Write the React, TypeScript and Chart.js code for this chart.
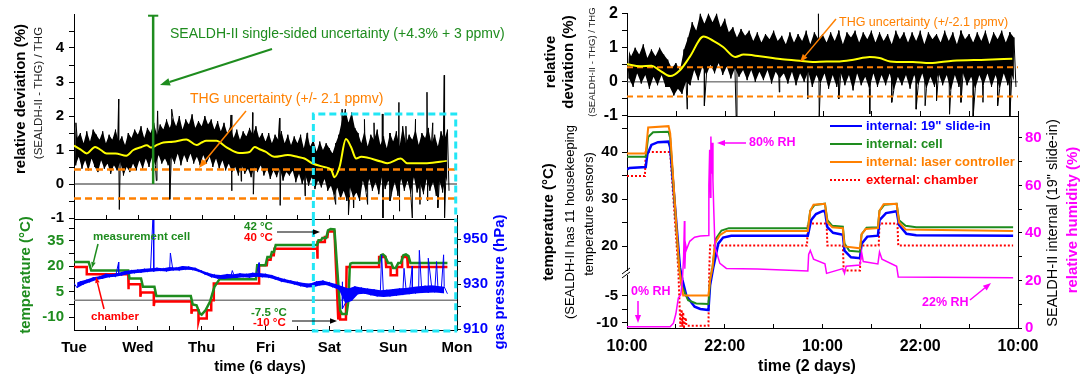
import { useEffect, useRef } from 'react';
import { Chart, registerables } from 'chart.js';

Chart.register(...registerables);

// ---------------- data ----------------
const DAY_LABELS = ['Tue', 'Wed', 'Thu', 'Fri', 'Sat', 'Sun', 'Mon'];
const HOUR_LABELS = ['10:00', '22:00', '10:00', '22:00', '10:00'];
const SERIES_LABELS = ['internal: 19" slide-in', 'internal: cell', 'internal: laser controller', 'external: chamber'];

// left top: relative deviation (%) vs time (days from Tue)
const LT_YEL_T = [0, 0.1, 0.2, 0.33, 0.42, 0.51, 0.65, 0.82, 0.93, 1.05, 1.14, 1.21, 1.3, 1.4, 1.55, 1.76, 1.92, 2.0, 2.07, 2.23, 2.39, 2.59, 2.75, 2.83, 2.9, 3.0, 3.14, 3.35, 3.5, 3.61, 3.73, 3.92, 4.03, 4.08, 4.16, 4.26, 4.34, 4.42, 4.5, 4.81, 4.91, 5.12, 5.22, 5.53, 5.84];
const LT_YEL_V = [1.13, 1.02, 0.9, 1.09, 1.0, 0.9, 0.9, 0.83, 1.0, 1.08, 1.14, 1.07, 1.15, 1.22, 1.24, 1.31, 1.15, 1.22, 1.27, 1.27, 1.08, 0.91, 0.94, 1.09, 1.03, 0.95, 0.8, 0.85, 0.8, 0.75, 0.61, 0.5, 0.42, 0.2, 0.5, 1.32, 1.09, 0.75, 0.8, 0.66, 0.61, 0.75, 0.61, 0.61, 0.68];
const LT_NOISE_DT = 0.05;
const LT_NOISE_HI = [1.75, 1.35, 1.5, 1.2, 1.55, 1.25, 1.6, 1.45, 1.3, 1.55,
  1.2, 1.45, 1.3, 1.6, 1.25, 1.4, 1.15, 1.5, 1.35, 1.6,
  1.45, 1.7, 1.35, 1.65, 1.5, 1.8, 1.45, 1.75, 1.6, 1.9,
  1.65, 1.95, 1.7, 2.0, 1.6, 1.9, 1.75, 2.05, 1.65, 1.85,
  1.7, 2.0, 1.75, 1.9, 1.6, 1.85, 1.55, 1.8, 1.5, 1.7,
  1.35, 1.6, 1.3, 1.55, 1.4, 1.65, 1.45, 1.7, 1.35, 1.5,
  1.25, 1.5, 1.2, 1.45, 1.3, 1.55, 1.2, 1.45, 1.15, 1.4,
  1.2, 1.45, 1.05, 1.5, 1.1, 1.3, 0.95, 1.25, 1.0, 1.2,
  1.05, 0.9, 1.2, 1.45, 1.9, 2.2, 1.8, 2.1, 1.65, 1.5,
  1.2, 1.55, 1.1, 1.45, 1.3, 1.6, 1.15, 1.4, 1.05, 1.5,
  1.25, 1.55, 1.1, 1.7, 1.2, 1.45, 1.3, 1.6, 1.15, 1.5,
  1.35, 1.65, 1.2, 1.45, 1.1, 1.55, 1.3, 1.6];
const LT_NOISE_LO = [0.55, 0.8, 0.45, 0.7, 0.4, 0.75, 0.5, 0.35, 0.7, 0.45,
  0.6, 0.3, 0.55, 0.4, 0.65, 0.25, 0.5, 0.35, 0.6, 0.4,
  0.7, 0.45, 0.75, 0.5, 0.8, 0.55, 0.85, 0.6, 0.75, 0.55,
  0.8, 0.6, 0.9, 0.55, 0.85, 0.65, 0.9, 0.6, 0.8, 0.55,
  0.85, 0.6, 0.8, 0.5, 0.75, 0.45, 0.7, 0.4, 0.6, 0.35,
  0.5, 0.25, 0.55, 0.3, 0.45, 0.2, 0.5, 0.35, 0.55, 0.25,
  0.45, 0.15, 0.4, 0.2, 0.45, 0.1, 0.35, 0.25, 0.4, 0.05,
  0.3, 0.0, 0.25, -0.05, 0.2, -0.15, 0.1, -0.1, 0.15, -0.2,
  -0.05, -0.35, -0.1, -0.45, -0.2, -0.5, -0.1, -0.4, -0.25, -0.5,
  0.1, -0.25, 0.15, -0.2, 0.05, -0.3, 0.2, -0.15, 0.1, -0.3,
  0.05, -0.35, 0.15, -0.2, 0.1, -0.3, 0.2, -0.25, 0.0, -0.3,
  0.15, -0.2, 0.05, -0.35, 0.1, -0.25, 0.2, -0.2];
const LT_SPIKES = [[0.03, 1.8], [0.7, 2.5], [0.71, -0.75], [1.29, 0.1], [1.31, 2.15], [1.5, -0.45], [1.53, 2.2], [2.46, 2.03], [2.47, -0.2], [2.62, 0.08], [2.8, 2.1], [2.81, -0.3], [3.22, 1.94], [3.23, -0.63], [3.62, -0.35], [3.66, 1.5], [4.1, -0.6], [4.2, 2.2], [4.3, -0.9], [4.38, -0.7], [4.55, 1.9], [4.6, -0.6], [4.7, 1.8], [4.83, 2.06], [4.84, -1.0], [4.95, -0.5], [5.09, 2.4], [5.1, -0.8], [5.2, 1.7], [5.3, -1.0], [5.35, 1.9], [5.42, -0.6], [5.53, 2.7], [5.54, -0.5], [5.62, 1.8], [5.7, -0.7], [5.8, 3.2], [5.81, -1.0]];
const THG_UNC = 0.43;
const LT_DASH_END = 5.97;
const SEALDH_UNC_DAY = 1.24;
const SEALDH_UNC_TOP = 4.95;
const BOX_X0 = 3.75;
const BOX_X1 = 5.98;
const BOX_TOP = 2.06;

// left bottom: temperatures (°C) and gas pressure (hPa)
const CELL_T = [0, 0.23, 0.27, 0.85, 0.87, 1.05, 1.08, 1.26, 1.29, 1.83, 1.86, 1.92, 1.97, 2.0, 2.06, 2.13, 2.2, 2.28, 2.85, 2.87, 3.0, 3.03, 3.08, 3.1, 3.13, 3.16, 3.81, 3.83, 3.87, 3.89, 3.95, 3.98, 4.02, 4.08, 4.17, 4.2, 4.27, 4.3, 4.32, 4.33, 4.36, 4.78, 4.81, 4.84, 4.87, 4.92, 4.97, 5.0, 5.04, 5.08, 5.12, 5.16, 5.2, 5.24, 5.27, 5.85];
const CELL_V = [22.5, 22.5, 17.5, 17.5, 12.8, 12.8, 7.9, 7.9, 2.4, 2.4, -2.5, -3, -7.8, -8.5, -6, -1, 7.9, 12.4, 12.4, 20.6, 20.6, 25.5, 25.5, 28.4, 28.4, 32.6, 32.6, 35.3, 35.3, 36.7, 36.7, 41.2, 42, 41.8, -6, -8.2, -8.2, 0, 19.6, 21.5, 22, 22, 26.5, 27, 26, 22, 22, 19, 19, 22, 22, 26.5, 27, 26, 22, 22];
const CHAM_T = [0, 0.2, 0.2, 0.85, 0.85, 0.86, 1.04, 1.04, 1.05, 1.25, 1.25, 1.26, 1.84, 1.84, 1.85, 1.95, 1.95, 1.96, 2.08, 2.08, 2.15, 2.15, 2.19, 2.19, 2.9, 2.9, 3.02, 3.03, 3.08, 3.09, 3.13, 3.14, 3.81, 3.81, 3.82, 3.92, 3.93, 3.97, 3.98, 4.08, 4.14, 4.16, 4.17, 4.26, 4.27, 4.78, 4.78, 4.88, 4.89, 4.96, 4.96, 5.06, 5.06, 5.14, 5.14, 5.22, 5.23, 5.85];
const CHAM_V = [19.6, 19.6, 15.3, 15.3, 6.5, 9.4, 9.4, 2, 4.5, 4.5, -3.5, -0.8, -0.8, -8, -5.9, -5.9, -12.4, -10.8, -10.8, -5.9, -5.9, 0, 0, 9.8, 9.8, 20.6, 20.6, 23.8, 23.8, 26.5, 26.5, 30.4, 30.4, 24.5, 34.3, 34.3, 37.3, 37.3, 40.5, 40.5, -11.4, -5, -11.4, -11.4, 19.6, 19.6, 25.5, 25.5, 19.6, 19.6, 14.7, 14.7, 19.6, 19.6, 25.5, 25.5, 19.6, 19.6];
const PRES_DT = 0.1;
const PRES_HI = [930.3, 931.2, 932.0, 933.0, 933.5, 934.6, 934.4, 935.0, 935.8, 936.2,
  936.5, 936.8, 937.0, 937.3, 937.0, 937.6, 937.4, 938.0, 937.8, 937.2,
  936.0, 935.0, 934.3, 934.0, 934.5, 934.4, 934.8, 934.6, 935.0, 934.9,
  934.6, 934.0, 933.0, 932.3, 931.6, 931.0, 930.5, 930.3, 931.2, 931.6,
  930.8, 930.0, 929.0, 928.0, 929.0, 928.5, 928.0, 927.7, 927.3, 927.5,
  927.8, 928.1, 928.3, 928.7, 929.0, 929.3, 929.5, 929.1, 928.8];
const PRES_LO = [928.3, 929.8, 930.8, 931.8, 932.4, 933.0, 933.2, 933.8, 934.4, 934.8,
  935.0, 935.4, 935.6, 935.8, 935.6, 936.0, 936.0, 936.4, 936.2, 935.5,
  934.2, 933.0, 932.4, 932.3, 932.6, 932.7, 933.0, 932.8, 933.2, 933.0,
  932.8, 932.0, 931.0, 930.5, 929.8, 929.0, 928.5, 928.6, 929.4, 929.6,
  928.6, 927.5, 921.5, 922.5, 925.5, 925.7, 925.0, 924.5, 924.3, 924.5,
  924.8, 925.1, 925.5, 925.8, 926.0, 926.1, 926.3, 926.0, 925.7];
const PRES_SPIKES = [[0.7, 939.8], [1.24, 962], [1.51, 943.8], [2.48, 936], [2.9, 939.5], [4.2, 931], [4.21, 919], [4.82, 943], [5.17, 937], [5.3, 938], [5.41, 945], [5.55, 941.5], [5.68, 940], [5.79, 943]];

// right top: relative deviation (%) vs hours from 10:00
const RT_YEL_H = [0, 1.6, 3, 4, 5.3, 6.5, 7.7, 9.4, 10.6, 11.8, 13.3, 14.3, 16.3, 18.8, 21.2, 22.8, 24.5, 26.1, 27.8, 29.8, 31, 32.3, 35.1, 37.2, 40, 44.1, 47.3];
const RT_YEL_V = [0.52, 0.46, 0.47, 0.34, 0.17, 0.34, 0.73, 1.33, 1.2, 1.02, 0.73, 0.8, 0.75, 0.67, 0.62, 0.58, 0.6, 0.6, 0.65, 0.73, 0.7, 0.6, 0.58, 0.55, 0.62, 0.65, 0.68];
const RT_NOISE_DT = 0.5;
const RT_NOISE_HI = [1.05, 0.75, 1.0, 0.8, 1.1, 0.7, 0.95, 0.75, 1.0, 0.8,
  0.65, 0.4, 0.55, 0.35, 0.95, 1.3, 1.75, 1.5, 2.0, 1.7,
  2.0, 1.75, 2.0, 1.6, 1.85, 1.45, 1.6, 1.3, 1.55, 1.35,
  1.5, 1.2, 1.45, 1.15, 1.4, 1.25, 1.5, 1.2, 1.35, 1.1,
  1.45, 1.15, 1.4, 1.2, 1.5, 1.1, 1.45, 1.25, 1.4, 1.15,
  1.45, 1.2, 1.5, 1.1, 1.45, 1.3, 1.5, 1.15, 1.45, 1.25,
  1.5, 1.15, 1.45, 1.2, 1.4, 1.1, 1.5, 1.25, 1.45, 1.15,
  1.45, 1.2, 1.5, 1.1, 1.45, 1.25, 1.4, 1.15, 1.5, 1.2,
  1.45, 1.1, 1.5, 1.25, 1.4, 1.15, 1.45, 1.2, 1.5, 1.1,
  1.45, 1.25, 1.5, 1.15, 1.45, 1.3];
const RT_NOISE_LO = [0.1, -0.15, 0.25, -0.05, 0.2, -0.2, 0.15, -0.1, 0.2, -0.15,
  -0.15, -0.4, -0.2, -0.35, 0.0, -0.1, 0.35, 0.05, 0.45, 0.2,
  0.5, 0.25, 0.55, 0.2, 0.45, 0.1, 0.4, 0.15, 0.35, 0.05,
  0.35, 0.0, 0.3, 0.05, 0.35, -0.05, 0.3, 0.1, 0.25, -0.05,
  0.3, -0.1, 0.25, 0.0, 0.3, -0.15, 0.2, -0.05, 0.25, -0.2,
  0.2, -0.15, 0.25, -0.1, 0.2, -0.25, 0.25, -0.1, 0.15, -0.2,
  0.25, -0.15, 0.2, -0.1, 0.25, -0.25, 0.15, -0.1, 0.2, -0.2,
  0.2, -0.1, 0.25, -0.2, 0.15, -0.15, 0.25, -0.1, 0.2, -0.25,
  0.2, -0.15, 0.25, -0.1, 0.15, -0.2, 0.2, -0.1, 0.25, -0.15,
  0.2, -0.2, 0.25, -0.1, 0.2, -0.15];
const RT_SPIKES = [[7.4, -0.8], [9.5, -0.7], [13.4, -1.0], [18.7, -0.3], [22.2, -0.5], [23.5, 2.0], [23.6, -1.0], [26.0, -0.5], [29.8, -0.94], [32.5, -0.6], [35.5, -0.8], [36.6, -0.7], [38.0, -0.55], [39.6, -0.95], [41.0, -0.6], [42.5, -1.0], [43.7, -0.6], [45.5, -0.7], [47.0, -1.0]];

// right bottom: housekeeping temperatures (°C) and relative humidity (%)
const SLIDE_H = [0, 0.3, 2.3, 2.5, 3.0, 3.8, 5.1, 5.3, 6.5, 6.8, 7.3, 8.3, 9.0, 10.0, 10.2, 10.6, 11.2, 11.8, 12.8, 22.2, 22.6, 23.2, 24.0, 24.3, 24.6, 25.3, 26.5, 26.7, 27.5, 28.6, 28.8, 29.5, 30.8, 31.0, 31.8, 33.1, 33.4, 34.3, 35.5, 47.4];
const SLIDE_V = [36.3, 36.6, 36.8, 39.5, 41.5, 42.1, 42.2, 41, 15.5, -2, -5, -7.0, -7.4, -7.6, -3, 15.5, 20.5, 21.8, 22.2, 22.2, 25.5, 26.8, 27.4, 27.5, 24, 22.8, 22.4, 19, 17.6, 17.4, 20.5, 22.0, 22.2, 25.5, 27.0, 27.4, 24.5, 22.6, 22.3, 22.2];
const CELL2_H = [0, 2.3, 2.6, 3.2, 5.1, 5.3, 6.4, 6.7, 7.5, 8.5, 10.0, 10.2, 10.5, 10.9, 11.6, 12.5, 22.2, 22.5, 23.0, 24.3, 24.6, 25.2, 26.5, 26.7, 27.3, 28.6, 28.8, 29.4, 30.8, 31.0, 31.6, 33.1, 33.4, 34.2, 35.5, 47.4];
const CELL2_V = [39.0, 39.0, 43.2, 44.2, 44.3, 43, 15.5, -3, -5.8, -6.4, -6.5, -2, 15.5, 21.5, 23.3, 23.8, 23.8, 27.5, 28.7, 29.0, 25.5, 24.3, 24.1, 20.5, 19.0, 18.8, 22.5, 23.9, 24.0, 27.5, 28.8, 29.0, 25.5, 24.3, 24.0, 24.0];
const LASER_H = [0, 2.3, 2.6, 5.1, 5.3, 6.4, 6.6, 6.9, 10.0, 10.2, 10.5, 10.8, 11.4, 12.2, 22.2, 22.5, 22.9, 24.3, 24.6, 25.2, 26.5, 26.7, 28.6, 28.8, 29.3, 30.8, 31.0, 31.5, 33.1, 33.4, 34.2, 47.4];
const LASER_V = [39.7, 39.7, 45.2, 45.5, 44, 15.5, -2, -4.9, -4.9, -2, 15.5, 20.6, 22.3, 23.2, 23.2, 27.5, 28.8, 29.0, 25, 24.0, 23.8, 19.9, 19.5, 22.5, 23.6, 23.8, 27.5, 28.9, 29.0, 25, 23.5, 23.2];
const CHAMB2_H = [0, 2.2, 2.3, 5.3, 6.3, 6.55, 6.7, 6.8, 6.9, 7.0, 7.2, 7.3, 10.0, 10.1, 10.2, 22.1, 22.2, 24.5, 24.6, 26.5, 26.6, 28.6, 28.7, 30.9, 31.0, 33.2, 33.3, 47.4];
const CHAMB2_V = [34.9, 34.9, 40, 40, 15, -10.7, -7.5, -10.7, -8, -10.7, -9, -10.5, -10.5, 15, 20.1, 20.1, 24.8, 24.8, 20.1, 20.1, 14.8, 14.8, 20.1, 20.1, 24.8, 24.8, 20.1, 20.1];
const RH_H = [0, 5.3, 5.7, 6.0, 6.3, 6.6, 6.8, 6.95, 7.05, 7.1, 7.2, 7.3, 7.7, 8.3, 9.0, 10.0, 10.05, 10.15, 10.25, 10.3, 10.35, 10.45, 10.55, 10.65, 10.8, 11.4, 12.2, 16, 22.2, 22.3, 22.5, 22.9, 24.3, 24.5, 26.5, 26.7, 26.9, 28.6, 28.8, 29.0, 30.8, 31.0, 31.3, 33.1, 33.3, 47.4];
const RH_V = [0.5, 0.5, 2, 6, 12.6, 14, 20, 30, 45, 25, 35, 33, 36.5, 38.2, 38.7, 38.9, 60, 75, 55, 80.6, 65, 78, 62, 50, 34, 27.2, 25.1, 24.8, 24.0, 31, 32.6, 29, 27, 23, 25, 23, 26, 26.5, 32, 28, 27, 32, 29, 26, 21.5, 21.2];

// tick lists
const LT_Y_TICKS = [-1, -0.5, 0, 0.5, 1, 1.5, 2, 2.5, 3, 3.5, 4, 4.5];
const LB_X_TICKS = [0, 0.5, 1, 1.5, 2, 2.5, 3, 3.5, 4, 4.5, 5, 5.5, 6];
const LB_T_TICKS = [-10, -2.5, 5, 12.5, 20, 27.5, 35, 42.5];
const LB_P_TICKS = [910, 920, 930, 940, 950];
const RT_Y_TICKS = [-1, -0.5, 0, 0.5, 1, 1.5, 2];
const RB_X_TICKS = [0, 6, 12, 18, 24, 30, 36, 42, 48];
const RB_T_TICKS = [45, 40, 35, 30, 25, 20, -5, -7.5, -10];
const RB_T_LABELED = [40, 30, 20, -5, -10];
const RB_RH_TICKS = [0, 10, 20, 30, 40, 50, 60, 70, 80];

// ---------------- style ----------------
const W = 1080;
const H = 376;
const FF = '"Liberation Sans", Arial, Helvetica, sans-serif';
const GREEN = '#1e8c1e';
const RED = '#ff0000';
const BLUE = '#0000ff';
const ORANGE = '#ff8000';
const MAGENTA = '#ff00ff';
const CYAN = '#22e6f5';
const YELLOW = '#ffff00';
const ROT = -Math.PI / 2;

// broken temperature axis (right panel): upper part 1:1, lower part rescaled
const BRK_HI = 14.26;
const BRK_LO = -0.74;
const BRK_K = 5.4 / 4.7;
const brk = (t: number) => (t >= BRK_HI ? t : t <= BRK_LO ? BRK_HI + (t - BRK_LO) * BRK_K : BRK_HI);

// ---------------- helpers ----------------
const pts = (xs: number[], ys: number[], map = (v: number) => v) => xs.map((x, i) => ({ x, y: map(ys[i]) }));

function zigzag(dt: number, hi: number[], lo: number[], spikes: number[][]) {
  const out: { x: number; y: number }[] = [];
  for (let i = 0; i < hi.length; i++) {
    out.push({ x: i * dt, y: hi[i] });
    out.push({ x: i * dt + dt / 2, y: lo[i] });
  }
  spikes.forEach(([t, v]) => out.push({ x: t, y: v }));
  out.sort((a, b) => a.x - b.x);
  return out;
}

function drawText(ctx: CanvasRenderingContext2D, s: string, x: number, y: number, size: number, color: string, o: any = {}) {
  ctx.save();
  ctx.translate(x, y);
  if (o.rot) ctx.rotate(o.rot);
  ctx.font = `${o.bold ? 'bold ' : ''}${size}px ${FF}`;
  ctx.fillStyle = color;
  ctx.textAlign = o.align || 'left';
  ctx.textBaseline = 'middle';
  ctx.fillText(s, 0, 0);
  ctx.restore();
}

function arrow(ctx: CanvasRenderingContext2D, x1: number, y1: number, x2: number, y2: number, color: string, width = 1.5, head = 8) {
  const a = Math.atan2(y2 - y1, x2 - x1);
  const bx = x2 - head * Math.cos(a);
  const by = y2 - head * Math.sin(a);
  const w = head * 0.38;
  ctx.save();
  ctx.strokeStyle = color;
  ctx.fillStyle = color;
  ctx.lineWidth = width;
  ctx.setLineDash([]);
  ctx.beginPath();
  ctx.moveTo(x1, y1);
  ctx.lineTo(bx, by);
  ctx.stroke();
  ctx.beginPath();
  ctx.moveTo(x2, y2);
  ctx.lineTo(bx + w * Math.sin(a), by - w * Math.cos(a));
  ctx.lineTo(bx - w * Math.sin(a), by + w * Math.cos(a));
  ctx.closePath();
  ctx.fill();
  ctx.restore();
}

const isInt = (v: number) => Math.abs(v - Math.round(v)) < 1e-6;

function base(padding: any) {
  return {
    responsive: false,
    animation: false,
    devicePixelRatio: 1,
    events: [],
    layout: { padding },
    plugins: { legend: { display: false }, tooltip: { enabled: false }, title: { display: false } },
    elements: { point: { radius: 0 }, line: { tension: 0, borderCapStyle: 'butt' } },
  };
}

const font = (size: number) => ({ family: FF, size, weight: 'bold' });
const setTicks = (list: number[]) => (s: any) => {
  s.ticks = list.map((v) => ({ value: v }));
};

const line = (data: any, color: string, width: number, extra: any = {}) => ({
  data,
  borderColor: color,
  backgroundColor: color,
  borderWidth: width,
  pointRadius: 0,
  fill: false,
  ...extra,
});

// filled envelope (upper edge filled down to lower edge) for the dense noise
function band(dt: number, hi: number[], lo: number[], color: string, extra: any = {}) {
  return [
    line(hi.map((v, i) => ({ x: i * dt, y: v })), 'rgba(0,0,0,0)', 0, { fill: '+1', backgroundColor: color, ...extra }),
    line(lo.map((v, i) => ({ x: i * dt + dt / 2, y: v })), 'rgba(0,0,0,0)', 0, { ...extra }),
  ];
}

// ---------------- charts ----------------
function ltConfig() {
  const overlay = {
    id: 'ltOverlay',
    afterDraw(chart: any) {
      const { ctx, chartArea: ca, scales } = chart;
      const xs = scales.x;
      const ys = scales.y;
      ctx.save();
      ctx.setLineDash([7, 4]);
      ctx.lineWidth = 3;
      ctx.strokeStyle = CYAN;
      const l = xs.getPixelForValue(BOX_X0);
      const r = xs.getPixelForValue(BOX_X1);
      const t = ys.getPixelForValue(BOX_TOP);
      ctx.beginPath();
      ctx.moveTo(l, ca.bottom + 1);
      ctx.lineTo(l, t);
      ctx.lineTo(r, t);
      ctx.lineTo(r, ca.bottom + 1);
      ctx.stroke();
      ctx.restore();
      drawText(ctx, 'SEALDH-II single-sided uncertainty (+4.3% + 3 ppmv)', 170, 34, 14, GREEN);
      arrow(ctx, 272, 49, 160, 85, GREEN, 2, 10);
      drawText(ctx, 'THG uncertainty (+/- 2.1 ppmv)', 190, 99, 14, ORANGE);
      arrow(ctx, 246, 111, 199, 168, ORANGE, 1.5, 9);
      drawText(ctx, 'relative deviation (%)', 21, 99, 15, '#000', { bold: true, align: 'center', rot: ROT });
      drawText(ctx, '(SEALDH-II - THG) / THG', 39, 93, 11.5, '#222', { align: 'center', rot: ROT });
    },
  };
  return {
    type: 'line',
    data: {
      datasets: [
        line([{ x: SEALDH_UNC_DAY - 0.08, y: SEALDH_UNC_TOP }, { x: SEALDH_UNC_DAY + 0.08, y: SEALDH_UNC_TOP }], GREEN, 2),
        line([{ x: SEALDH_UNC_DAY, y: 0 }, { x: SEALDH_UNC_DAY, y: SEALDH_UNC_TOP }], GREEN, 2.5),
        line(pts(LT_YEL_T, LT_YEL_V), YELLOW, 2, { cubicInterpolationMode: 'monotone' }),
        line([{ x: 0, y: THG_UNC }, { x: LT_DASH_END, y: THG_UNC }], ORANGE, 2.5, { borderDash: [7, 4] }),
        line([{ x: 0, y: -THG_UNC }, { x: LT_DASH_END, y: -THG_UNC }], ORANGE, 2.5, { borderDash: [7, 4] }),
        line(zigzag(LT_NOISE_DT, LT_NOISE_HI, LT_NOISE_LO, LT_SPIKES), '#000', 1),
        ...band(LT_NOISE_DT, LT_NOISE_HI, LT_NOISE_LO, '#000'),
        line([{ x: 0, y: 0 }, { x: 6, y: 0 }], '#222', 1),
      ],
    },
    options: {
      ...base({ left: 0, right: 623, top: 8, bottom: 158 }),
      scales: {
        x: { type: 'linear', min: 0, max: 6, display: false },
        y: {
          type: 'linear', min: -1, max: 5, bounds: 'data',
          afterFit: (s: any) => { s.width = 74; },
          afterBuildTicks: setTicks(LT_Y_TICKS),
          ticks: { callback: (v: number) => (isInt(v) ? String(Math.round(v)) : ''), font: font(15), color: '#000', padding: 5, autoSkip: false },
          grid: { drawOnChartArea: false, tickLength: 5, color: '#000' },
          border: { color: '#000', width: 1 },
        },
      },
    },
    plugins: [overlay],
  };
}

function lbConfig() {
  const overlay = {
    id: 'lbOverlay',
    afterDraw(chart: any) {
      const { ctx, chartArea: ca, scales } = chart;
      const xs = scales.x;
      ctx.save();
      ctx.strokeStyle = '#000';
      ctx.lineWidth = 1;
      ctx.beginPath();
      ctx.moveTo(ca.left, ca.top + 0.5);
      ctx.lineTo(ca.right, ca.top + 0.5);
      LB_X_TICKS.forEach((v) => {
        const px = Math.round(xs.getPixelForValue(v)) + 0.5;
        ctx.moveTo(px, ca.top);
        ctx.lineTo(px, ca.top - 4);
      });
      ctx.stroke();
      ctx.setLineDash([7, 4]);
      ctx.lineWidth = 3;
      ctx.strokeStyle = CYAN;
      const l = xs.getPixelForValue(BOX_X0);
      const r = xs.getPixelForValue(BOX_X1);
      ctx.beginPath();
      ctx.moveTo(l, ca.top);
      ctx.lineTo(l, ca.bottom + 1);
      ctx.lineTo(r, ca.bottom + 1);
      ctx.lineTo(r, ca.top);
      ctx.stroke();
      ctx.restore();
      drawText(ctx, 'measurement cell', 93, 237, 11.5, GREEN, { bold: true });
      arrow(ctx, 98, 244, 92, 268, GREEN, 1.5, 6);
      drawText(ctx, 'chamber', 91, 317, 11.5, RED, { bold: true });
      arrow(ctx, 104, 309, 96, 277, RED, 1.5, 6);
      drawText(ctx, '42 °C', 244, 227, 11.5, GREEN, { bold: true });
      drawText(ctx, '40 °C', 244, 238, 11.5, RED, { bold: true });
      arrow(ctx, 277, 232, 320, 232, '#000', 1.2, 7);
      drawText(ctx, '-7.5 °C', 251, 313, 11.5, GREEN, { bold: true });
      drawText(ctx, '-10 °C', 253, 323, 11.5, RED, { bold: true });
      arrow(ctx, 292, 321, 337, 321, '#000', 1.2, 7);
      drawText(ctx, 'temperature (°C)', 26, 275, 15, GREEN, { bold: true, align: 'center', rot: ROT });
      drawText(ctx, 'gas pressure (hPa)', 500, 282, 15, BLUE, { bold: true, align: 'center', rot: ROT });
      drawText(ctx, 'time (6 days)', 260, 367, 15, '#000', { bold: true, align: 'center' });
    },
  };
  return {
    type: 'line',
    data: {
      datasets: [
        line(zigzag(PRES_DT, PRES_HI, PRES_LO, PRES_SPIKES), BLUE, 1, { yAxisID: 'yP' }),
        ...band(PRES_DT, PRES_HI, PRES_LO, BLUE, { yAxisID: 'yP' }),
        line(pts(CELL_T, CELL_V), GREEN, 2.5, { yAxisID: 'y' }),
        line(pts(CHAM_T, CHAM_V), RED, 2.5, { yAxisID: 'y' }),
        line([{ x: 0, y: 0 }, { x: 6, y: 0 }], '#808080', 1.5, { yAxisID: 'y' }),
      ],
    },
    options: {
      ...base({ left: 0, right: 563, top: 219, bottom: 0 }),
      scales: {
        x: {
          type: 'linear', min: 0, max: 6, position: 'bottom', bounds: 'data',
          afterFit: (s: any) => { s.height = 46; },
          afterBuildTicks: setTicks(LB_X_TICKS),
          ticks: { callback: (v: number) => (isInt(v) ? DAY_LABELS[Math.round(v)] : ''), font: font(15), color: '#000', padding: 13, autoSkip: false, maxRotation: 0 },
          grid: { drawOnChartArea: false, tickLength: -4, color: '#000' },
          border: { color: '#000', width: 1 },
        },
        y: {
          type: 'linear', position: 'left', min: -17.6, max: 47.9, bounds: 'data',
          afterFit: (s: any) => { s.width = 74; },
          afterBuildTicks: setTicks(LB_T_TICKS),
          ticks: { callback: (v: number) => (isInt((v + 10) / 15) ? String(Math.round(v)) : ''), font: font(15), color: GREEN, padding: 5, autoSkip: false },
          grid: { drawOnChartArea: false, tickLength: 5, color: '#000' },
          border: { color: '#000', width: 1 },
        },
        yP: {
          type: 'linear', position: 'right', min: 909.6, max: 958.9, bounds: 'data',
          afterFit: (s: any) => { s.width = 60; },
          afterBuildTicks: setTicks(LB_P_TICKS),
          ticks: { callback: (v: number) => (isInt((v - 910) / 20) ? String(Math.round(v)) : ''), font: font(15), color: BLUE, padding: 2, autoSkip: false },
          grid: { drawOnChartArea: false, tickLength: 4, color: '#000' },
          border: { color: '#000', width: 1 },
        },
      },
    },
    plugins: [overlay],
  };
}

function rtConfig() {
  const overlay = {
    id: 'rtOverlay',
    afterDraw(chart: any) {
      const { ctx } = chart;
      drawText(ctx, 'relative', 551, 62, 15, '#000', { bold: true, align: 'center', rot: ROT });
      drawText(ctx, 'deviation (%)', 569, 62, 15, '#000', { bold: true, align: 'center', rot: ROT });
      drawText(ctx, '(SEALDH-II - THG) / THG', 592, 62, 9.5, '#222', { align: 'center', rot: ROT });
      drawText(ctx, 'THG uncertainty (+/-2.1 ppmv)', 839, 23, 12.5, ORANGE);
      arrow(ctx, 836, 19, 800, 62, ORANGE, 1.5, 8);
    },
  };
  return {
    type: 'line',
    data: {
      datasets: [
        line(pts(RT_YEL_H, RT_YEL_V), YELLOW, 2, { cubicInterpolationMode: 'monotone' }),
        line([{ x: 0, y: THG_UNC }, { x: 48, y: THG_UNC }], ORANGE, 2, { borderDash: [6, 4] }),
        line([{ x: 0, y: -THG_UNC }, { x: 48, y: -THG_UNC }], ORANGE, 2, { borderDash: [6, 4] }),
        line(zigzag(RT_NOISE_DT, RT_NOISE_HI, RT_NOISE_LO, RT_SPIKES), '#000', 1),
        ...band(RT_NOISE_DT, RT_NOISE_HI, RT_NOISE_LO, '#000'),
        line([{ x: 0, y: 0 }, { x: 48, y: 0 }], '#444', 1),
      ],
    },
    options: {
      ...base({ left: 560, right: 62, top: 13, bottom: 260 }),
      scales: {
        x: { type: 'linear', min: 0, max: 48, display: false },
        y: {
          type: 'linear', min: -1, max: 2, bounds: 'data',
          afterFit: (s: any) => { s.width = 67; },
          afterBuildTicks: setTicks(RT_Y_TICKS),
          ticks: { callback: (v: number) => (isInt(v) ? String(Math.round(v)) : ''), font: font(16), color: '#000', padding: 4, autoSkip: false },
          grid: { drawOnChartArea: false, tickLength: 5, color: '#000' },
          border: { color: '#000', width: 1 },
        },
      },
    },
    plugins: [overlay],
  };
}

function rbConfig() {
  const legendItems = [
    { label: SERIES_LABELS[0], color: BLUE, dash: [] as number[] },
    { label: SERIES_LABELS[1], color: GREEN, dash: [] as number[] },
    { label: SERIES_LABELS[2], color: ORANGE, dash: [] as number[] },
    { label: SERIES_LABELS[3], color: RED, dash: [2, 2] },
  ];
  const overlay = {
    id: 'rbOverlay',
    afterDraw(chart: any) {
      const { ctx, chartArea: ca, scales } = chart;
      const xs = scales.x;
      const ys = scales.y;
      ctx.save();
      ctx.strokeStyle = '#000';
      ctx.lineWidth = 1;
      ctx.beginPath();
      ctx.moveTo(ca.left, ca.top + 0.5);
      ctx.lineTo(ca.right, ca.top + 0.5);
      RB_X_TICKS.forEach((v) => {
        const px = Math.round(xs.getPixelForValue(v)) + 0.5;
        ctx.moveTo(px, ca.top);
        ctx.lineTo(px, ca.top - 5);
      });
      ctx.stroke();
      const by = ys.getPixelForValue(BRK_HI);
      ctx.fillStyle = '#fff';
      ctx.fillRect(ca.left - 2, by - 2, 4, 4);
      ctx.beginPath();
      ctx.moveTo(ca.left - 5, by + 1);
      ctx.lineTo(ca.left + 3, by - 5);
      ctx.moveTo(ca.left - 5, by + 5);
      ctx.lineTo(ca.left + 3, by - 1);
      ctx.stroke();
      ctx.restore();
      legendItems.forEach((it, i) => {
        const y = 126 + i * 18;
        ctx.save();
        ctx.strokeStyle = it.color;
        ctx.lineWidth = 2;
        ctx.setLineDash(it.dash);
        ctx.beginPath();
        ctx.moveTo(830, y);
        ctx.lineTo(862, y);
        ctx.stroke();
        ctx.restore();
        drawText(ctx, it.label, 866, y, 13, it.color, { bold: true });
      });
      drawText(ctx, '80% RH', 749, 143, 12.5, MAGENTA, { bold: true });
      arrow(ctx, 746, 143, 717, 143, MAGENTA, 1.5, 8);
      drawText(ctx, '0% RH', 631, 292, 12.5, MAGENTA, { bold: true });
      arrow(ctx, 638, 301, 638, 323, MAGENTA, 1.5, 8);
      drawText(ctx, '22% RH', 922, 303, 12.5, MAGENTA, { bold: true });
      arrow(ctx, 970, 300, 991, 283, MAGENTA, 1.5, 8);
      drawText(ctx, 'temperature (°C)', 549, 222, 15, '#000', { bold: true, align: 'center', rot: ROT });
      drawText(ctx, '(SEALDH-II has 11 housekeeping', 570, 222, 13, '#000', { align: 'center', rot: ROT });
      drawText(ctx, 'temperature sensors)', 589, 214, 13, '#000', { align: 'center', rot: ROT });
      drawText(ctx, 'SEALDH-II internal (19" slide-in)', 1053, 223, 14.5, '#000', { align: 'center', rot: ROT });
      drawText(ctx, 'relative humidity (%)', 1073, 220, 15, MAGENTA, { bold: true, align: 'center', rot: ROT });
      drawText(ctx, 'time (2 days)', 807, 367, 16, '#000', { bold: true, align: 'center' });
    },
  };
  return {
    type: 'line',
    data: {
      datasets: [
        line(pts(RH_H, RH_V), MAGENTA, 1.5, { yAxisID: 'yRH', label: 'relative humidity' }),
        line(pts(LASER_H, LASER_V, brk), ORANGE, 2, { yAxisID: 'y', label: SERIES_LABELS[2] }),
        line(pts(CELL2_H, CELL2_V, brk), GREEN, 2, { yAxisID: 'y', label: SERIES_LABELS[1] }),
        line(pts(SLIDE_H, SLIDE_V, brk), BLUE, 2.5, { yAxisID: 'y', label: SERIES_LABELS[0] }),
        line(pts(CHAMB2_H, CHAMB2_V, brk), RED, 2, { yAxisID: 'y', borderDash: [2, 2], label: SERIES_LABELS[3] }),
      ],
    },
    options: {
      ...base({ left: 560, right: 12, top: 116, bottom: 0 }),
      scales: {
        x: {
          type: 'linear', min: 0, max: 48, position: 'bottom', bounds: 'data',
          afterFit: (s: any) => { s.height = 48; },
          afterBuildTicks: setTicks(RB_X_TICKS),
          ticks: { callback: (v: number) => (isInt(v / 12) ? HOUR_LABELS[Math.round(v / 12)] : ''), font: font(16), color: '#000', padding: 13, autoSkip: false, maxRotation: 0 },
          grid: { drawOnChartArea: false, tickLength: -4, color: '#000' },
          border: { color: '#000', width: 1 },
        },
        y: {
          type: 'linear', position: 'left', min: 2.553, max: 47.66, bounds: 'data',
          afterFit: (s: any) => { s.width = 67; },
          afterBuildTicks: (s: any) => { s.ticks = RB_T_TICKS.map((t) => ({ value: brk(t) })); },
          ticks: {
            callback: (_v: number, i: number) => (RB_T_LABELED.includes(RB_T_TICKS[i]) ? String(RB_T_TICKS[i]) : ''),
            font: font(15), color: '#000', padding: 4, autoSkip: false,
          },
          grid: { drawOnChartArea: false, tickLength: 5, color: '#000' },
          border: { color: '#000', width: 1 },
        },
        yRH: {
          type: 'linear', position: 'right', min: 0, max: 89.26, bounds: 'data',
          afterFit: (s: any) => { s.width = 50; },
          afterBuildTicks: setTicks(RB_RH_TICKS),
          ticks: { callback: (v: number) => (isInt(v / 20) ? String(Math.round(v)) : ''), font: font(15), color: MAGENTA, padding: 3, autoSkip: false },
          grid: { drawOnChartArea: false, tickLength: 4, color: '#000' },
          border: { color: '#000', width: 1 },
        },
      },
    },
    plugins: [overlay],
  };
}

export default function App() {
  const r0 = useRef<HTMLCanvasElement>(null);
  const r1 = useRef<HTMLCanvasElement>(null);
  const r2 = useRef<HTMLCanvasElement>(null);
  const r3 = useRef<HTMLCanvasElement>(null);
  useEffect(() => {
    const refs = [r0, r1, r2, r3];
    const cfgs = [ltConfig(), lbConfig(), rtConfig(), rbConfig()];
    const charts = cfgs.map((c, i) => new Chart(refs[i].current as HTMLCanvasElement, c as any));
    return () => charts.forEach((c) => c.destroy());
  }, []);
  const cs: any = { position: 'absolute', left: 0, top: 0, width: W, height: H };
  return (
    <div style={{ position: 'fixed', left: 0, top: 0, width: W, height: H, background: '#fff', overflow: 'hidden' }}>
      <canvas ref={r0} width={W} height={H} style={cs} />
      <canvas ref={r1} width={W} height={H} style={cs} />
      <canvas ref={r2} width={W} height={H} style={cs} />
      <canvas ref={r3} width={W} height={H} style={cs} />
    </div>
  );
}
